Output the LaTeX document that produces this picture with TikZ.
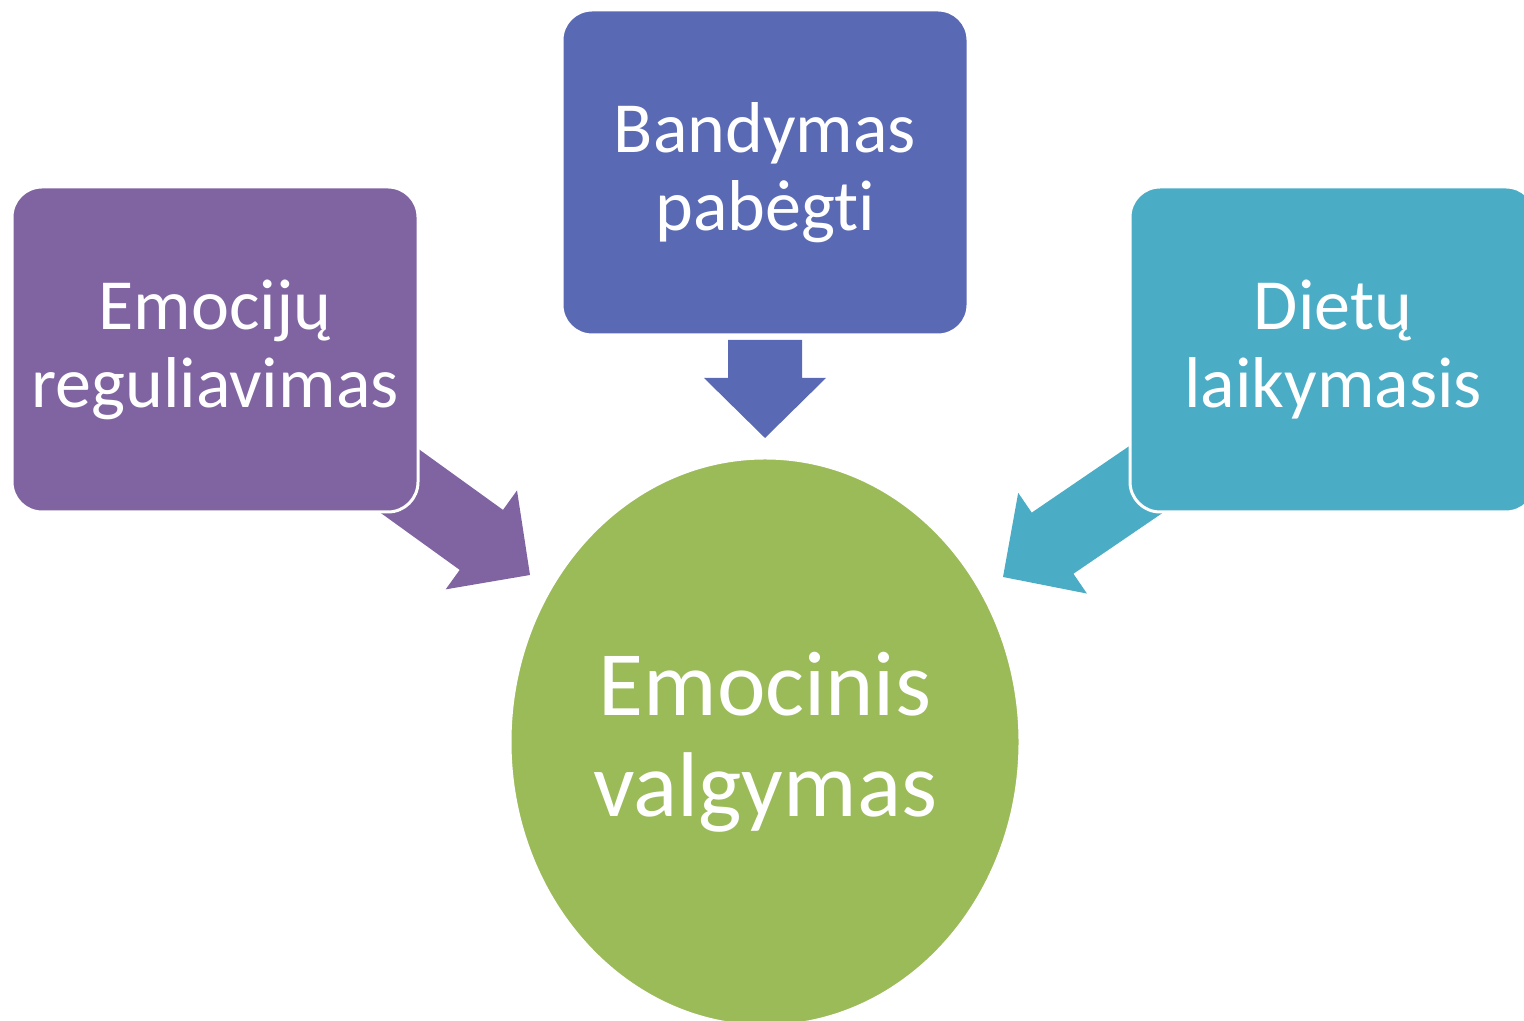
\documentclass[tikz,border=0pt]{standalone}
\usepackage{fontspec}
\setmainfont{Carlito}[Ligatures=NoCommon]
\usetikzlibrary{positioning,shapes.geometric}

\definecolor{lila}{HTML}{8064A2}
\definecolor{melyna}{HTML}{5A69B4}
\definecolor{zydra}{HTML}{4BACC6}
\definecolor{zalia}{HTML}{9BBB59}

\begin{document}
\begin{tikzpicture}[
  x=0.5pt, y=0.5pt,
  box/.style={rectangle, rounded corners=15pt, minimum width=203pt, minimum height=162.5pt,
    fill=#1, draw=white, line width=1.5pt, text=white, align=center,
    font=\fontsize{36}{39}\selectfont},
  center_txt/.style={ellipse, minimum width=255pt, minimum height=284pt, inner sep=0pt,
    fill=zalia, draw=white, line width=1.5pt, text=white, align=center,
    font=\fontsize{46}{50.5}\selectfont},
  pics/blockarr/.style={code={
    \fill (0,0) -- (-60,61) -- (-60,37) -- (-#1,37) -- (-#1,-37) -- (-60,-37) -- (-60,-61) -- cycle;
  }}
]
\useasboundingbox (0,0) rectangle (1524,1021);

% --- Rodykliu smaigaliai ---
\coordinate (tip_l) at (530,446);
\coordinate (tip_t) at (765,583);
\coordinate (tip_r) at (1003,444);

% --- Rodykles (po langeliais) ---
\pic[fill=lila, rotate=-35.8] at (tip_l) {blockarr=185};
\pic[fill=melyna, rotate=-90] at (tip_t) {blockarr=98};
\pic[fill=zydra, rotate=-145.7] at (tip_r) {blockarr=185};

% --- Langeliai ---
\node[box=lila]   (emocijos) at (215,671.5)  {Emocijų\\reguliavimas};
\node[box=melyna] (pabegti)  at (765,848.5)  {Bandymas\\pabėgti};
\node[box=zydra]  (dietos)   at (1333,671.5) {Dietų\\laikymasis};

% --- Centras ---
\node[center_txt] (valgymas) at (765,279) {Emocinis\\valgymas};

\end{tikzpicture}
\end{document}
